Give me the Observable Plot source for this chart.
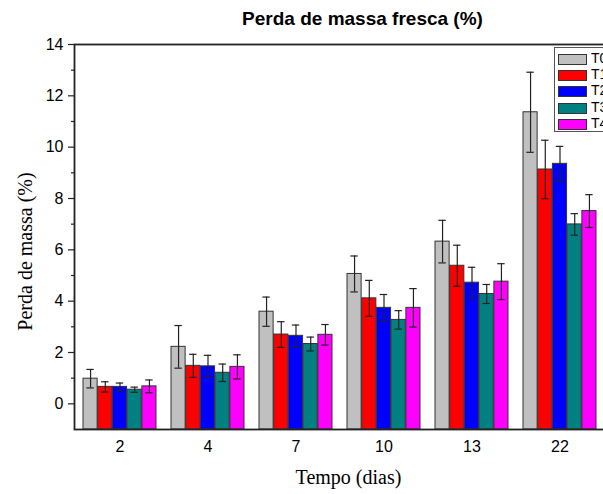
<!DOCTYPE html>
<html>
<head>
<meta charset="utf-8">
<script src="https://cdn.jsdelivr.net/npm/d3@7"></script>
<script src="https://cdn.jsdelivr.net/npm/@observablehq/plot@0.6"></script>
<style>
html, body { margin: 0; padding: 0; background: #fff; overflow: hidden; }
#wrap { position: relative; width: 603px; height: 494px; overflow: hidden; }
#chart svg { max-width: none !important; }
#legend { position: absolute; left: 554px; top: 47px; width: 70px; height: 83px; border: 1px solid #555; background: #fff;
  font: 14px Arial, "Liberation Sans", sans-serif; color: #000; }
.row { position: absolute; left: 3px; height: 10px; }
.sw { position: absolute; left: 0; top: 0; width: 27px; height: 9px; border: 1px solid #333; }
.lb { position: absolute; left: 33px; top: -4px; line-height: 16px; }
</style>
</head>
<body>
<div id="wrap"><div id="chart"></div><div id="legend"></div></div>
<script>
const days = ["2", "4", "7", "10", "13", "22"];
const treatments = ["T0", "T1", "T2", "T3", "T4"];
const colors = ["#c0c0c0", "#ff0000", "#0000ff", "#008080", "#ff00ff"];
const T0 = [0.98, 2.22, 3.59, 5.06, 6.32, 11.36];
const T1 = [0.66, 1.48, 2.70, 4.11, 5.38, 9.13];
const T2 = [0.66, 1.46, 2.65, 3.74, 4.72, 9.35];
const T3 = [0.55, 1.21, 2.33, 3.27, 4.28, 6.99];
const T4 = [0.68, 1.44, 2.69, 3.74, 4.76, 7.51];
const E0 = [0.36, 0.83, 0.57, 0.70, 0.83, 1.56];
const E1 = [0.20, 0.45, 0.50, 0.70, 0.80, 1.14];
const E2 = [0.15, 0.43, 0.42, 0.52, 0.60, 0.68];
const E3 = [0.10, 0.34, 0.27, 0.36, 0.37, 0.42];
const E4 = [0.25, 0.47, 0.40, 0.75, 0.70, 0.64];
const yTicks = [0, 2, 4, 6, 8, 10, 12, 14];
const yMinor = [1, 3, 5, 7, 9, 11, 13];

const means = [T0, T1, T2, T3, T4];
const errs = [E0, E1, E2, E3, E4];
const data = [];
treatments.forEach((t, i) => days.forEach((d, j) => data.push({day: d, t, i, v: means[i][j], e: errs[i][j]})));

const W = 612, ML = 74, MR = 6, MT = 44, MB = 65, H = 494;
const pin = 0.17;
const step = (W - ML - MR) / days.length;
const bandW = step * (1 - pin);
const barW = bandW / treatments.length;
const inset = (bandW - barW) / 2;
const capHalf = 4;
const sans = "Arial, 'Liberation Sans', sans-serif";
const serif = "'Times New Roman', 'Liberation Serif', serif";

const marks = [];
treatments.forEach((t, i) => {
  const sub = data.filter(d => d.t === t);
  const dx = (i - 2) * barW;
  marks.push(Plot.barY(sub, {x: "day", y1: -1, y2: "v", fill: colors[i], stroke: "#333", strokeWidth: 1,
    insetLeft: inset + dx, insetRight: inset - dx}));
});
treatments.forEach((t, i) => {
  const sub = data.filter(d => d.t === t);
  const dx = (i - 2) * barW;
  marks.push(Plot.ruleX(sub, {x: "day", y1: d => d.v - d.e, y2: d => d.v + d.e, dx, stroke: "#222", strokeWidth: 1.2}));
  marks.push(Plot.tickY(sub, {x: "day", y: d => d.v + d.e, stroke: "#222", strokeWidth: 1.2,
    insetLeft: inset + dx + barW / 2 - capHalf, insetRight: inset - dx + barW / 2 - capHalf}));
  marks.push(Plot.tickY(sub, {x: "day", y: d => d.v - d.e, stroke: "#222", strokeWidth: 1.2,
    insetLeft: inset + dx + barW / 2 - capHalf, insetRight: inset - dx + barW / 2 - capHalf}));
});
marks.push(Plot.frame({stroke: "#222", strokeWidth: 1.8}));
marks.push(Plot.axisY(yTicks, {tickSize: 6, tickPadding: 5, fontSize: 16, fontFamily: sans, label: null, stroke: "#222", strokeWidth: 1.2}));
marks.push(Plot.axisY(yMinor, {tickSize: 3, tickFormat: () => "", label: null, stroke: "#222", strokeWidth: 1.2}));
marks.push(Plot.axisX({tickSize: 0, tickPadding: 11, fontSize: 16, fontFamily: sans, label: null}));
marks.push(Plot.text(["Perda de massa fresca (%)"], {frameAnchor: "top", lineAnchor: "middle", textAnchor: "middle", dx: 22, dy: -26, fontSize: 19, fontWeight: "bold", fontFamily: sans, fill: "#000"}));
marks.push(Plot.text(["Tempo (dias)"], {frameAnchor: "bottom", lineAnchor: "middle", textAnchor: "middle", dx: 8, dy: 48, fontSize: 20, fontFamily: serif, fill: "#000"}));
marks.push(Plot.text(["Perda de massa (%)"], {frameAnchor: "left", lineAnchor: "middle", textAnchor: "middle", dx: -49, dy: 14.5, rotate: -90, fontSize: 20, fontFamily: serif, fill: "#000"}));

const chart = Plot.plot({
  width: W, height: H, marginLeft: ML, marginRight: MR, marginTop: MT, marginBottom: MB,
  style: {background: "#fff", color: "#000", fontFamily: sans, overflow: "visible", maxWidth: "none"},
  x: {domain: days, type: "band", paddingInner: pin, paddingOuter: pin / 2, axis: null},
  y: {domain: [-1, 14], axis: null},
  marks
});
document.getElementById("chart").appendChild(chart);

const leg = document.getElementById("legend");
const rowY = [6, 22, 38, 55, 71];
treatments.forEach((t, i) => {
  const r = document.createElement("div");
  r.className = "row";
  r.style.top = rowY[i] + "px";
  r.innerHTML = `<div class="sw" style="background:${colors[i]}"></div><div class="lb">${t}</div>`;
  leg.appendChild(r);
});
</script>
</body>
</html>
